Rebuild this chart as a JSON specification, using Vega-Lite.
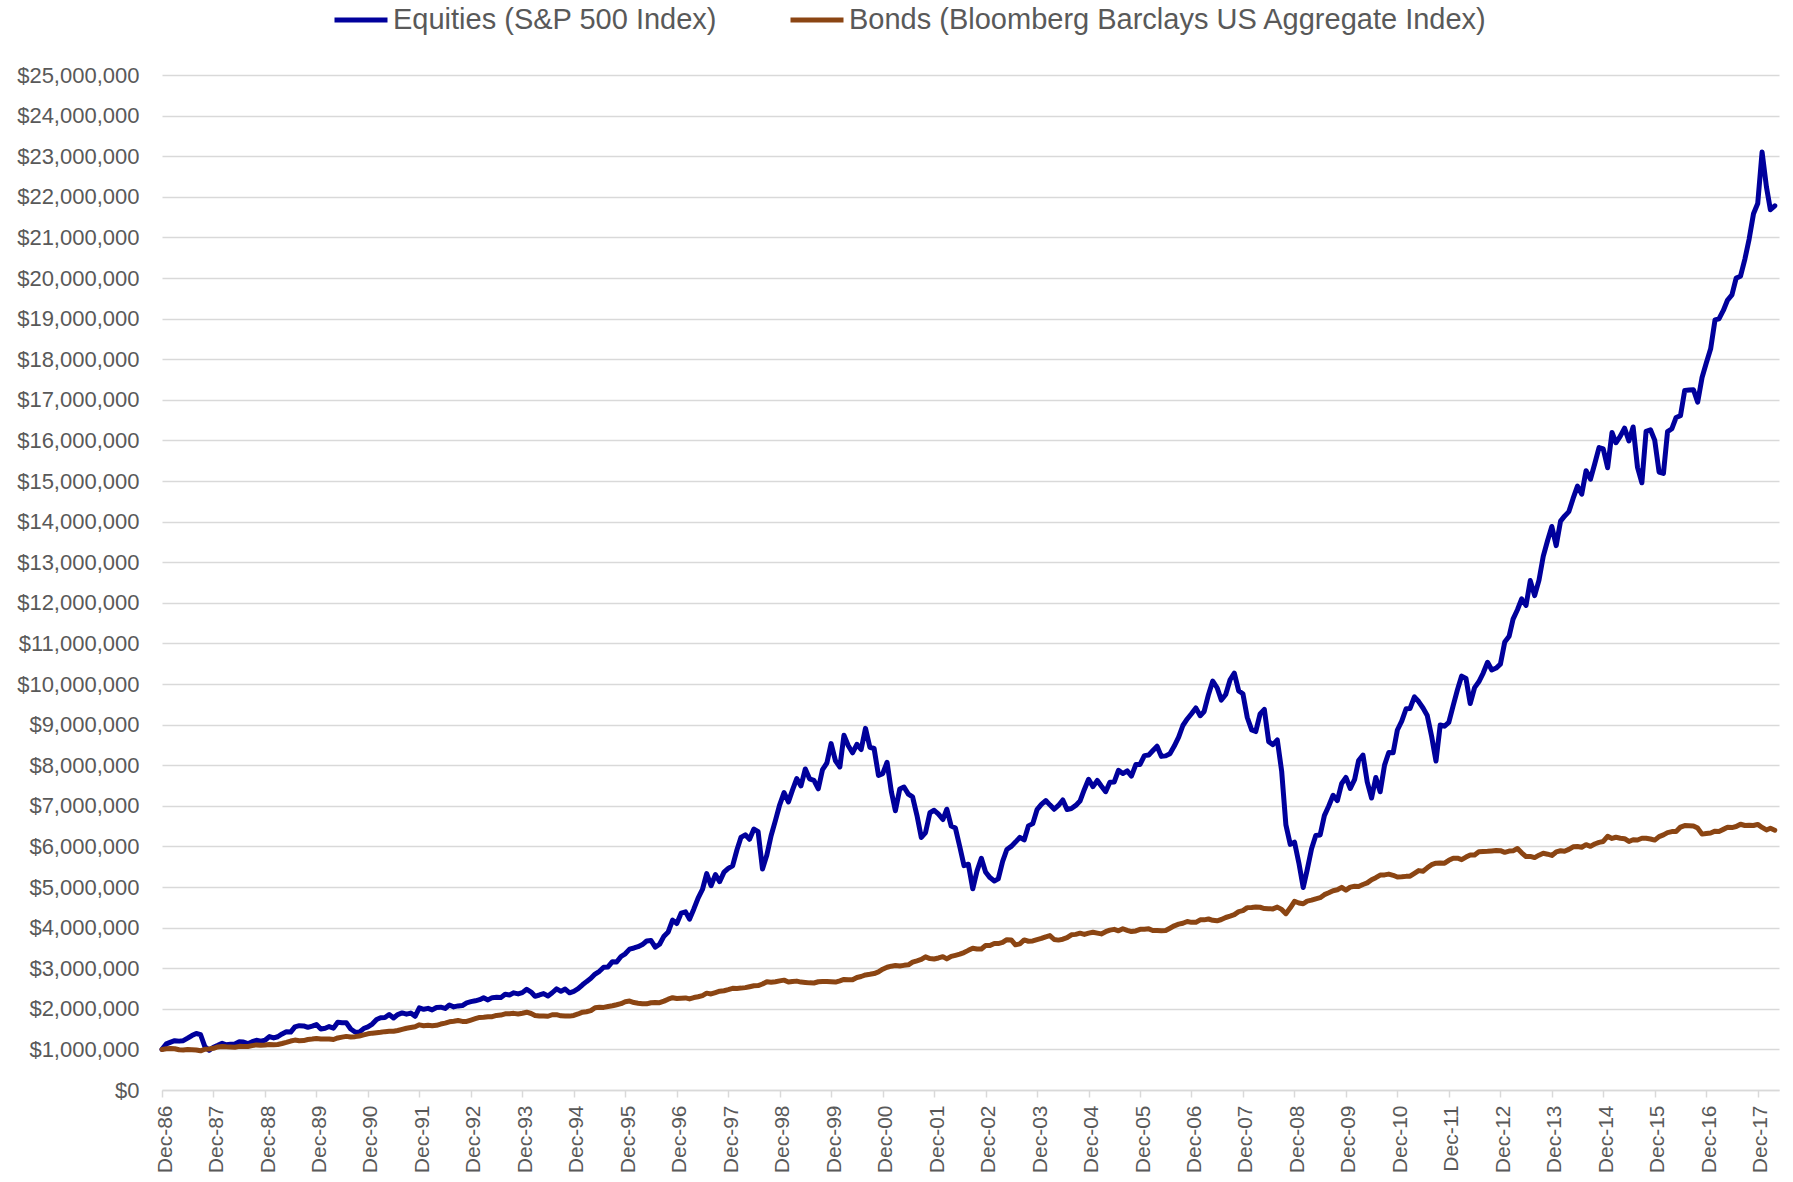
{
"$schema": "https://vega.github.io/schema/vega-lite/v6.json",
"width": 1617, "height": 1015,
"autosize": {"type": "none"},
"padding": {"left": 162, "top": 75, "right": 14, "bottom": 92},
"background": "white",
"config": {"view": {"stroke": null}, "font": "Liberation Sans"},
"data": {"values": [
{"d":"1986-12-01","e":1000000,"b":1000000},
{"d":"1987-01-01","e":1134900,"b":1014000},{"d":"1987-02-01","e":1180000,"b":1020000},{"d":"1987-03-01","e":1214500,"b":1015000},{"d":"1987-04-01","e":1203800,"b":990000},{"d":"1987-05-01","e":1214400,"b":985000},{"d":"1987-06-01","e":1276000,"b":998000},{"d":"1987-07-01","e":1341200,"b":994000},{"d":"1987-08-01","e":1391800,"b":987000},{"d":"1987-09-01","e":1361800,"b":965000},{"d":"1987-10-01","e":1068300,"b":1004000},{"d":"1987-11-01","e":979700,"b":1012000},{"d":"1987-12-01","e":1054500,"b":1027600},
{"d":"1988-01-01","e":1100200,"b":1060500},{"d":"1988-02-01","e":1149300,"b":1072800},{"d":"1988-03-01","e":1114000,"b":1064600},{"d":"1988-04-01","e":1127600,"b":1059500},{"d":"1988-05-01","e":1134300,"b":1052300},{"d":"1988-06-01","e":1186500,"b":1074900},{"d":"1988-07-01","e":1183300,"b":1069700},{"d":"1988-08-01","e":1140700,"b":1072800},{"d":"1988-09-01","e":1189200,"b":1093400},{"d":"1988-10-01","e":1223400,"b":1110800},{"d":"1988-11-01","e":1203500,"b":1101600},{"d":"1988-12-01","e":1225000,"b":1108700},
{"d":"1989-01-01","e":1315700,"b":1123100},{"d":"1989-02-01","e":1281200,"b":1116500},{"d":"1989-03-01","e":1311400,"b":1122000},{"d":"1989-04-01","e":1380800,"b":1145300},{"d":"1989-05-01","e":1433300,"b":1173000},{"d":"1989-06-01","e":1425800,"b":1206300},{"d":"1989-07-01","e":1555900,"b":1229500},{"d":"1989-08-01","e":1584300,"b":1212900},{"d":"1989-09-01","e":1578200,"b":1217400},{"d":"1989-10-01","e":1542600,"b":1242900},{"d":"1989-11-01","e":1572300,"b":1253900},{"d":"1989-12-01","e":1611200,"b":1269800},
{"d":"1990-01-01","e":1504400,"b":1254600},{"d":"1990-02-01","e":1521400,"b":1255800},{"d":"1990-03-01","e":1562600,"b":1257100},{"d":"1990-04-01","e":1524700,"b":1244400},{"d":"1990-05-01","e":1669500,"b":1282500},{"d":"1990-06-01","e":1659100,"b":1302800},{"d":"1990-07-01","e":1655000,"b":1320600},{"d":"1990-08-01","e":1502900,"b":1304100},{"d":"1990-09-01","e":1429800,"b":1314200},{"d":"1990-10-01","e":1424100,"b":1330700},{"d":"1990-11-01","e":1513500,"b":1358700},{"d":"1990-12-01","e":1556000,"b":1383600},
{"d":"1991-01-01","e":1624500,"b":1400200},{"d":"1991-02-01","e":1738000,"b":1411300},{"d":"1991-03-01","e":1780900,"b":1421000},{"d":"1991-04-01","e":1785800,"b":1437600},{"d":"1991-05-01","e":1859100,"b":1445900},{"d":"1991-06-01","e":1774300,"b":1445900},{"d":"1991-07-01","e":1858300,"b":1465200},{"d":"1991-08-01","e":1899300,"b":1494300},{"d":"1991-09-01","e":1867400,"b":1522000},{"d":"1991-10-01","e":1894000,"b":1538600},{"d":"1991-11-01","e":1815100,"b":1556600},{"d":"1991-12-01","e":2023100,"b":1605000},
{"d":"1992-01-01","e":1987700,"b":1582500},{"d":"1992-02-01","e":2011500,"b":1592200},{"d":"1992-03-01","e":1972300,"b":1582500},{"d":"1992-04-01","e":2032200,"b":1593800},{"d":"1992-05-01","e":2039000,"b":1624300},{"d":"1992-06-01","e":2008400,"b":1646700},{"d":"1992-07-01","e":2092500,"b":1678800},{"d":"1992-08-01","e":2047100,"b":1693300},{"d":"1992-09-01","e":2070700,"b":1710900},{"d":"1992-10-01","e":2079900,"b":1690100},{"d":"1992-11-01","e":2147900,"b":1688500},{"d":"1992-12-01","e":2175700,"b":1723700},
{"d":"1993-01-01","e":2196300,"b":1756500},{"d":"1993-02-01","e":2224700,"b":1787500},{"d":"1993-03-01","e":2271700,"b":1794400},{"d":"1993-04-01","e":2219300,"b":1804700},{"d":"1993-05-01","e":2275100,"b":1806400},{"d":"1993-06-01","e":2282300,"b":1837500},{"d":"1993-07-01","e":2275600,"b":1846100},{"d":"1993-08-01","e":2359500,"b":1875400},{"d":"1993-09-01","e":2341500,"b":1880600},{"d":"1993-10-01","e":2392500,"b":1887500},{"d":"1993-11-01","e":2367200,"b":1871900},{"d":"1993-12-01","e":2397700,"b":1891800},
{"d":"1994-01-01","e":2481600,"b":1916400},{"d":"1994-02-01","e":2412800,"b":1884200},{"d":"1994-03-01","e":2308000,"b":1836900},{"d":"1994-04-01","e":2340200,"b":1821800},{"d":"1994-05-01","e":2374900,"b":1821800},{"d":"1994-06-01","e":2316800,"b":1816100},{"d":"1994-07-01","e":2395500,"b":1854000},{"d":"1994-08-01","e":2491400,"b":1855900},{"d":"1994-09-01","e":2430100,"b":1827500},{"d":"1994-10-01","e":2486700,"b":1825600},{"d":"1994-11-01","e":2394100,"b":1819900},{"d":"1994-12-01","e":2430200,"b":1836600},
{"d":"1995-01-01","e":2495300,"b":1873300},{"d":"1995-02-01","e":2591500,"b":1917400},{"d":"1995-03-01","e":2668700,"b":1928400},{"d":"1995-04-01","e":2749900,"b":1954100},{"d":"1995-05-01","e":2856600,"b":2025800},{"d":"1995-06-01","e":2924300,"b":2038600},{"d":"1995-07-01","e":3024500,"b":2035000},{"d":"1995-08-01","e":3030700,"b":2057000},{"d":"1995-09-01","e":3159700,"b":2075400},{"d":"1995-10-01","e":3151400,"b":2099200},{"d":"1995-11-01","e":3288500,"b":2126800},{"d":"1995-12-01","e":3355100,"b":2175800},
{"d":"1996-01-01","e":3469200,"b":2191000},{"d":"1996-02-01","e":3497800,"b":2154000},{"d":"1996-03-01","e":3530200,"b":2138800},{"d":"1996-04-01","e":3582400,"b":2125800},{"d":"1996-05-01","e":3669100,"b":2121400},{"d":"1996-06-01","e":3682300,"b":2149700},{"d":"1996-07-01","e":3518400,"b":2156200},{"d":"1996-08-01","e":3589400,"b":2151900},{"d":"1996-09-01","e":3788900,"b":2188900},{"d":"1996-10-01","e":3893000,"b":2236700},{"d":"1996-11-01","e":4184200,"b":2273700},{"d":"1996-12-01","e":4100100,"b":2254800},
{"d":"1997-01-01","e":4357300,"b":2261600},{"d":"1997-02-01","e":4389000,"b":2268300},{"d":"1997-03-01","e":4207500,"b":2243500},{"d":"1997-04-01","e":4459100,"b":2277300},{"d":"1997-05-01","e":4726600,"b":2297600},{"d":"1997-06-01","e":4938600,"b":2324700},{"d":"1997-07-01","e":5331400,"b":2385600},{"d":"1997-08-01","e":5031700,"b":2365300},{"d":"1997-09-01","e":5306200,"b":2399100},{"d":"1997-10-01","e":5130000,"b":2432900},{"d":"1997-11-01","e":5365800,"b":2444200},{"d":"1997-12-01","e":5458100,"b":2472400},
{"d":"1998-01-01","e":5520800,"b":2504500},{"d":"1998-02-01","e":5917600,"b":2502100},{"d":"1998-03-01","e":6221500,"b":2509500},{"d":"1998-04-01","e":6286300,"b":2521800},{"d":"1998-05-01","e":6176100,"b":2544100},{"d":"1998-06-01","e":6428200,"b":2566400},{"d":"1998-07-01","e":6361900,"b":2571300},{"d":"1998-08-01","e":5441600,"b":2610900},{"d":"1998-09-01","e":5788700,"b":2667700},{"d":"1998-10-01","e":6261800,"b":2655400},{"d":"1998-11-01","e":6640700,"b":2667700},{"d":"1998-12-01","e":7025200,"b":2687200},
{"d":"1999-01-01","e":7323000,"b":2706000},{"d":"1999-02-01","e":7096000,"b":2660300},{"d":"1999-03-01","e":7381200,"b":2673800},{"d":"1999-04-01","e":7671400,"b":2681800},{"d":"1999-05-01","e":7489800,"b":2657600},{"d":"1999-06-01","e":7907900,"b":2649600},{"d":"1999-07-01","e":7664600,"b":2638800},{"d":"1999-08-01","e":7626800,"b":2636100},{"d":"1999-09-01","e":7418800,"b":2665700},{"d":"1999-10-01","e":7893200,"b":2673800},{"d":"1999-11-01","e":8054200,"b":2673800},{"d":"1999-12-01","e":8532400,"b":2665200},
{"d":"2000-01-01","e":8108800,"b":2657200},{"d":"2000-02-01","e":7956400,"b":2689200},{"d":"2000-03-01","e":8737500,"b":2723800},{"d":"2000-04-01","e":8479700,"b":2715800},{"d":"2000-05-01","e":8304900,"b":2715800},{"d":"2000-06-01","e":8514800,"b":2771800},{"d":"2000-07-01","e":8386900,"b":2795800},{"d":"2000-08-01","e":8907600,"b":2833100},{"d":"2000-09-01","e":8442200,"b":2849100},{"d":"2000-10-01","e":8411600,"b":2867800},{"d":"2000-11-01","e":7748200,"b":2910400},{"d":"2000-12-01","e":7791000,"b":2975200},
{"d":"2001-01-01","e":8072300,"b":3022800},{"d":"2001-02-01","e":7337600,"b":3049600},{"d":"2001-03-01","e":6876300,"b":3064500},{"d":"2001-04-01","e":7414800,"b":3052600},{"d":"2001-05-01","e":7463100,"b":3070400},{"d":"2001-06-01","e":7286800,"b":3082300},{"d":"2001-07-01","e":7218300,"b":3147800},{"d":"2001-08-01","e":6765100,"b":3180500},{"d":"2001-09-01","e":6220900,"b":3216200},{"d":"2001-10-01","e":6342400,"b":3278700},{"d":"2001-11-01","e":6828700,"b":3237000},{"d":"2001-12-01","e":6890900,"b":3226300},
{"d":"2002-01-01","e":6793200,"b":3252100},{"d":"2002-02-01","e":6661500,"b":3284400},{"d":"2002-03-01","e":6916000,"b":3229500},{"d":"2002-04-01","e":6500400,"b":3290800},{"d":"2002-05-01","e":6450400,"b":3316600},{"d":"2002-06-01","e":5991500,"b":3345700},{"d":"2002-07-01","e":5525900,"b":3384400},{"d":"2002-08-01","e":5560600,"b":3439200},{"d":"2002-09-01","e":4955800,"b":3490900},{"d":"2002-10-01","e":5391700,"b":3474700},{"d":"2002-11-01","e":5707400,"b":3474700},{"d":"2002-12-01","e":5371300,"b":3557300},
{"d":"2003-01-01","e":5231500,"b":3560900},{"d":"2003-02-01","e":5149800,"b":3610700},{"d":"2003-03-01","e":5200200,"b":3607100},{"d":"2003-04-01","e":5629500,"b":3635600},{"d":"2003-05-01","e":5924400,"b":3703100},{"d":"2003-06-01","e":6000000,"b":3696000},{"d":"2003-07-01","e":6105800,"b":3575100},{"d":"2003-08-01","e":6223700,"b":3600000},{"d":"2003-09-01","e":6158000,"b":3696000},{"d":"2003-10-01","e":6505500,"b":3664000},{"d":"2003-11-01","e":6561000,"b":3671100},{"d":"2003-12-01","e":6904700,"b":3703200},
{"d":"2004-01-01","e":7033900,"b":3732800},{"d":"2004-02-01","e":7129900,"b":3773600},{"d":"2004-03-01","e":7023200,"b":3803200},{"d":"2004-04-01","e":6915000,"b":3706900},{"d":"2004-05-01","e":7008400,"b":3692100},{"d":"2004-06-01","e":7144500,"b":3714300},{"d":"2004-07-01","e":6909200,"b":3751300},{"d":"2004-08-01","e":6934700,"b":3821700},{"d":"2004-09-01","e":7009500,"b":3832800},{"d":"2004-10-01","e":7117700,"b":3862400},{"d":"2004-11-01","e":7402700,"b":3832800},{"d":"2004-12-01","e":7654600,"b":3863900},
{"d":"2005-01-01","e":7471600,"b":3887100},{"d":"2005-02-01","e":7623600,"b":3863900},{"d":"2005-03-01","e":7488500,"b":3844600},{"d":"2005-04-01","e":7348200,"b":3898700},{"d":"2005-05-01","e":7579000,"b":3937300},{"d":"2005-06-01","e":7588600,"b":3956600},{"d":"2005-07-01","e":7872600,"b":3921900},{"d":"2005-08-01","e":7795100,"b":3972100},{"d":"2005-09-01","e":7860400,"b":3933400},{"d":"2005-10-01","e":7731600,"b":3902500},{"d":"2005-11-01","e":8014900,"b":3918000},{"d":"2005-12-01","e":8019600,"b":3957700},
{"d":"2006-01-01","e":8235500,"b":3957700},{"d":"2006-02-01","e":8250900,"b":3969600},{"d":"2006-03-01","e":8354300,"b":3930000},{"d":"2006-04-01","e":8467800,"b":3926000},{"d":"2006-05-01","e":8217500,"b":3922100},{"d":"2006-06-01","e":8229800,"b":3930000},{"d":"2006-07-01","e":8283200,"b":3985400},{"d":"2006-08-01","e":8471300,"b":4044800},{"d":"2006-09-01","e":8691600,"b":4084300},{"d":"2006-10-01","e":8978000,"b":4108100},{"d":"2006-11-01","e":9138600,"b":4151600},{"d":"2006-12-01","e":9268000,"b":4129100},
{"d":"2007-01-01","e":9411700,"b":4129100},{"d":"2007-02-01","e":9219000,"b":4191000},{"d":"2007-03-01","e":9324300,"b":4191000},{"d":"2007-04-01","e":9741600,"b":4211700},{"d":"2007-05-01","e":10072800,"b":4178600},{"d":"2007-06-01","e":9907400,"b":4166300},{"d":"2007-07-01","e":9603900,"b":4199300},{"d":"2007-08-01","e":9741100,"b":4248800},{"d":"2007-09-01","e":10104000,"b":4281900},{"d":"2007-10-01","e":10268100,"b":4319000},{"d":"2007-11-01","e":9829600,"b":4393400},{"d":"2007-12-01","e":9759700,"b":4416900},
{"d":"2008-01-01","e":9175800,"b":4492000},{"d":"2008-02-01","e":8869300,"b":4496400},{"d":"2008-03-01","e":8829000,"b":4509700},{"d":"2008-04-01","e":9261900,"b":4500800},{"d":"2008-05-01","e":9373900,"b":4469900},{"d":"2008-06-01","e":8580100,"b":4465500},{"d":"2008-07-01","e":8507400,"b":4461100},{"d":"2008-08-01","e":8623300,"b":4505200},{"d":"2008-09-01","e":7851300,"b":4447800},{"d":"2008-10-01","e":6530200,"b":4341800},{"d":"2008-11-01","e":6049900,"b":4487600},{"d":"2008-12-01","e":6106500,"b":4648400},
{"d":"2009-01-01","e":5593200,"b":4606600},{"d":"2009-02-01","e":4987100,"b":4588000},{"d":"2009-03-01","e":5422400,"b":4653000},{"d":"2009-04-01","e":5942000,"b":4676300},{"d":"2009-05-01","e":6268300,"b":4708800},{"d":"2009-06-01","e":6280400,"b":4736700},{"d":"2009-07-01","e":6757700,"b":4811100},{"d":"2009-08-01","e":6996600,"b":4857600},{"d":"2009-09-01","e":7259100,"b":4908700},{"d":"2009-10-01","e":7127900,"b":4932000},{"d":"2009-11-01","e":7549700,"b":4992400},{"d":"2009-12-01","e":7698800,"b":4924000},
{"d":"2010-01-01","e":7427100,"b":4997900},{"d":"2010-02-01","e":7652200,"b":5017600},{"d":"2010-03-01","e":8116200,"b":5012600},{"d":"2010-04-01","e":8250400,"b":5061900},{"d":"2010-05-01","e":7587200,"b":5101300},{"d":"2010-06-01","e":7190800,"b":5180000},{"d":"2010-07-01","e":7698700,"b":5229300},{"d":"2010-08-01","e":7346100,"b":5293300},{"d":"2010-09-01","e":8003000,"b":5298200},{"d":"2010-10-01","e":8312300,"b":5317900},{"d":"2010-11-01","e":8307500,"b":5288400},{"d":"2010-12-01","e":8867100,"b":5246100},
{"d":"2011-01-01","e":9083700,"b":5251300},{"d":"2011-02-01","e":9390500,"b":5261800},{"d":"2011-03-01","e":9397000,"b":5267100},{"d":"2011-04-01","e":9681600,"b":5335300},{"d":"2011-05-01","e":9567500,"b":5403500},{"d":"2011-06-01","e":9409000,"b":5387700},{"d":"2011-07-01","e":9223000,"b":5471700},{"d":"2011-08-01","e":8714300,"b":5550400},{"d":"2011-09-01","e":8102900,"b":5587100},{"d":"2011-10-01","e":8991200,"b":5592300},{"d":"2011-11-01","e":8961000,"b":5587100},{"d":"2011-12-01","e":9055100,"b":5657400},
{"d":"2012-01-01","e":9466400,"b":5708300},{"d":"2012-02-01","e":9867800,"b":5708300},{"d":"2012-03-01","e":10194700,"b":5674400},{"d":"2012-04-01","e":10135800,"b":5736600},{"d":"2012-05-01","e":9517300,"b":5787500},{"d":"2012-06-01","e":9910800,"b":5787500},{"d":"2012-07-01","e":10053200,"b":5866700},{"d":"2012-08-01","e":10269600,"b":5872400},{"d":"2012-09-01","e":10536600,"b":5878000},{"d":"2012-10-01","e":10345900,"b":5889400},{"d":"2012-11-01","e":10393200,"b":5900700},{"d":"2012-12-01","e":10486900,"b":5895700},
{"d":"2013-01-01","e":11035100,"b":5854400},{"d":"2013-02-01","e":11176500,"b":5883900},{"d":"2013-03-01","e":11599000,"b":5889800},{"d":"2013-04-01","e":11829400,"b":5948800},{"d":"2013-05-01","e":12096000,"b":5842600},{"d":"2013-06-01","e":11935200,"b":5748300},{"d":"2013-07-01","e":12547200,"b":5754200},{"d":"2013-08-01","e":12175600,"b":5724700},{"d":"2013-09-01","e":12559300,"b":5783700},{"d":"2013-10-01","e":13142100,"b":5830800},{"d":"2013-11-01","e":13534000,"b":5807300},{"d":"2013-12-01","e":13879700,"b":5776600},
{"d":"2014-01-01","e":13409200,"b":5863300},{"d":"2014-02-01","e":14011900,"b":5892100},{"d":"2014-03-01","e":14133600,"b":5880600},{"d":"2014-04-01","e":14246100,"b":5926800},{"d":"2014-05-01","e":14570900,"b":5990300},{"d":"2014-06-01","e":14874300,"b":5996100},{"d":"2014-07-01","e":14675400,"b":5978800},{"d":"2014-08-01","e":15254300,"b":6042300},{"d":"2014-09-01","e":15043400,"b":6001900},{"d":"2014-10-01","e":15419100,"b":6059700},{"d":"2014-11-01","e":15824500,"b":6100100},{"d":"2014-12-01","e":15788900,"b":6121500},
{"d":"2015-01-01","e":15325500,"b":6250100},{"d":"2015-02-01","e":16195000,"b":6195000},{"d":"2015-03-01","e":15941200,"b":6225600},{"d":"2015-04-01","e":16104900,"b":6201100},{"d":"2015-05-01","e":16302100,"b":6188800},{"d":"2015-06-01","e":15987300,"b":6121500},{"d":"2015-07-01","e":16331100,"b":6164400},{"d":"2015-08-01","e":15335600,"b":6158200},{"d":"2015-09-01","e":14955900,"b":6201100},{"d":"2015-10-01","e":16224800,"b":6201100},{"d":"2015-11-01","e":16260900,"b":6182700},{"d":"2015-12-01","e":16006500,"b":6155200},
{"d":"2016-01-01","e":15221000,"b":6241400},{"d":"2016-02-01","e":15184600,"b":6284500},{"d":"2016-03-01","e":16214900,"b":6339900},{"d":"2016-04-01","e":16287000,"b":6364500},{"d":"2016-05-01","e":16565300,"b":6364500},{"d":"2016-06-01","e":16609100,"b":6475300},{"d":"2016-07-01","e":17230400,"b":6512200},{"d":"2016-08-01","e":17239100,"b":6506000},{"d":"2016-09-01","e":17247500,"b":6499900},{"d":"2016-10-01","e":16941600,"b":6450600},{"d":"2016-11-01","e":17550700,"b":6302900},{"d":"2016-12-01","e":17904800,"b":6318300},
{"d":"2017-01-01","e":18256900,"b":6330900},{"d":"2017-02-01","e":18969200,"b":6375200},{"d":"2017-03-01","e":18994900,"b":6368800},{"d":"2017-04-01","e":19200900,"b":6419400},{"d":"2017-05-01","e":19457000,"b":6469900},{"d":"2017-06-01","e":19584600,"b":6463600},{"d":"2017-07-01","e":19998100,"b":6488900},{"d":"2017-08-01","e":20043600,"b":6545800},{"d":"2017-09-01","e":20465800,"b":6514200},{"d":"2017-10-01","e":20955900,"b":6520500},{"d":"2017-11-01","e":21581500,"b":6514200},{"d":"2017-12-01","e":21835700,"b":6542000},
{"d":"2018-01-01","e":23102700,"b":6466800},{"d":"2018-02-01","e":22241800,"b":6405400},{"d":"2018-03-01","e":21681500,"b":6446400},{"d":"2018-04-01","e":21778800,"b":6398700}
]},
"transform": [{"fold": ["e", "b"], "as": ["series", "value"]}],
"mark": {"type": "line", "strokeWidth": 5, "strokeJoin": "round", "strokeCap": "round"},
"encoding": {
  "x": {"field": "d", "type": "temporal",
    "scale": {"type": "utc", "domain": [{"year": 1986, "month": 12, "date": 1, "utc": true}, {"year": 2018, "month": 5, "date": 1, "utc": true}]},
    "axis": {
      "values": [
        {"year":1986,"month":12,"date":1,"utc":true},{"year":1987,"month":12,"date":1,"utc":true},{"year":1988,"month":12,"date":1,"utc":true},{"year":1989,"month":12,"date":1,"utc":true},
        {"year":1990,"month":12,"date":1,"utc":true},{"year":1991,"month":12,"date":1,"utc":true},{"year":1992,"month":12,"date":1,"utc":true},{"year":1993,"month":12,"date":1,"utc":true},
        {"year":1994,"month":12,"date":1,"utc":true},{"year":1995,"month":12,"date":1,"utc":true},{"year":1996,"month":12,"date":1,"utc":true},{"year":1997,"month":12,"date":1,"utc":true},
        {"year":1998,"month":12,"date":1,"utc":true},{"year":1999,"month":12,"date":1,"utc":true},{"year":2000,"month":12,"date":1,"utc":true},{"year":2001,"month":12,"date":1,"utc":true},
        {"year":2002,"month":12,"date":1,"utc":true},{"year":2003,"month":12,"date":1,"utc":true},{"year":2004,"month":12,"date":1,"utc":true},{"year":2005,"month":12,"date":1,"utc":true},
        {"year":2006,"month":12,"date":1,"utc":true},{"year":2007,"month":12,"date":1,"utc":true},{"year":2008,"month":12,"date":1,"utc":true},{"year":2009,"month":12,"date":1,"utc":true},
        {"year":2010,"month":12,"date":1,"utc":true},{"year":2011,"month":12,"date":1,"utc":true},{"year":2012,"month":12,"date":1,"utc":true},{"year":2013,"month":12,"date":1,"utc":true},
        {"year":2014,"month":12,"date":1,"utc":true},{"year":2015,"month":12,"date":1,"utc":true},{"year":2016,"month":12,"date":1,"utc":true},{"year":2017,"month":12,"date":1,"utc":true}
      ],
      "format": "%b-%y", "labelAngle": -90, "labelFont": "Liberation Sans", "labelFontSize": 21, "labelColor": "#595959",
      "labelPadding": 8, "labelOffset": 3, "tickSize": 7, "tickColor": "#D9D9D9", "tickWidth": 1.5,
      "domainColor": "#D9D9D9", "domainWidth": 1.5, "grid": false, "title": null,
      "labelOverlap": false, "labelFlush": false, "labelBound": false
    }
  },
  "y": {"field": "value", "type": "quantitative",
    "scale": {"domain": [0, 25000000], "nice": false},
    "axis": {
      "values": [0,1000000,2000000,3000000,4000000,5000000,6000000,7000000,8000000,9000000,10000000,11000000,12000000,13000000,14000000,15000000,16000000,17000000,18000000,19000000,20000000,21000000,22000000,23000000,24000000,25000000],
      "format": "$,.0f", "labelFont": "Liberation Sans Narrow, Liberation Sans", "labelFontSize": 22, "labelColor": "#595959",
      "labelPadding": 23, "ticks": false, "domain": false, "grid": true, "gridColor": "#D9D9D9", "gridWidth": 1.5, "title": null
    }
  },
  "color": {"field": "series", "type": "nominal",
    "scale": {"domain": ["e", "b"], "range": ["#00009C", "#8B4513"]},
    "legend": {
      "orient": "none", "legendX": 170, "legendY": -84, "direction": "horizontal", "title": null,
      "symbolType": "stroke", "symbolSize": 2809, "symbolStrokeWidth": 5,
      "labelFont": "Liberation Sans", "labelFontSize": 29, "labelColor": "#595959", "labelOffset": 3,
      "columnPadding": 62, "labelLimit": 1000,
      "labelExpr": "datum.label == 'e' ? 'Equities (S&P 500 Index)' : 'Bonds (Bloomberg Barclays US Aggregate Index)'"
    }
  }
}
}
